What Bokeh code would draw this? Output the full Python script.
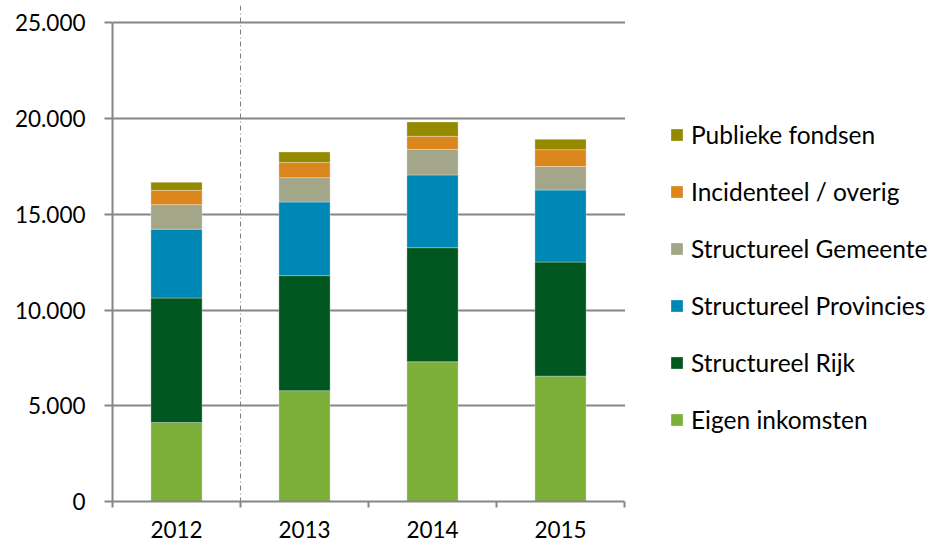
import numpy as np
from bokeh.plotting import figure
from bokeh.models import (ColumnDataSource, FixedTicker, Span, Legend, LegendItem,
                          Range1d, BoxAnnotation)
from bokeh.embed import file_html
from bokeh.resources import INLINE

# ---- data ----
years = ["2012", "2013", "2014", "2015"]
series = ["Eigen inkomsten", "Structureel Rijk", "Structureel Provincies",
          "Structureel Gemeente", "Incidenteel / overig", "Publieke fondsen"]
eigen_inkomsten = [4130, 5790, 7300, 6550]
structureel_rijk = [6500, 6010, 5960, 5960]
structureel_provincies = [3600, 3850, 3800, 3760]
structureel_gemeente = [1280, 1270, 1340, 1230]
incidenteel_overig = [750, 790, 680, 880]
publieke_fondsen = [420, 550, 750, 540]
colors = ["#7CAF3A", "#00561F", "#0088B5", "#A3A689", "#DB861C", "#948A00"]
y_ticks = [0, 5000, 10000, 15000, 20000, 25000]
y_tick_labels = ["0", "5.000", "10.000", "15.000", "20.000", "25.000"]

FONT = "Lato"
GREY = "#868686"

keys = ["s0", "s1", "s2", "s3", "s4", "s5"]
ncat = len(years)
xpos = [i + 0.5 for i in range(ncat)]
source = ColumnDataSource(dict(
    x=xpos,
    s0=eigen_inkomsten, s1=structureel_rijk, s2=structureel_provincies,
    s3=structureel_gemeente, s4=incidenteel_overig, s5=publieke_fondsen,
))

# frame spans the full width to the right so the legend can sit there;
# the chart area itself covers x in [0, ncat]
p = figure(width=932, height=548, output_backend="svg", toolbar_location=None,
           x_range=Range1d(0, 820 / 128), y_range=Range1d(0, 25914),
           min_border_left=112, min_border_right=0, min_border_top=5,
           min_border_bottom=47)
p.outline_line_color = None
p.background_fill_color = "white"
p.border_fill_color = "white"

p.xgrid.grid_line_color = None
p.ygrid.grid_line_color = GREY
p.ygrid.grid_line_width = 2

# hide grid lines right of the chart area (legend area)
p.add_layout(BoxAnnotation(left=ncat + 0.004, fill_color="white", fill_alpha=1,
                           line_color=None, level="underlay"))

renderers = p.vbar_stack(keys, x="x", width=0.4, color=colors, source=source,
                         line_color="white", line_width=0.6, line_alpha=0.5)

# y axis
p.yaxis.ticker = FixedTicker(ticks=y_ticks)
p.yaxis.major_label_overrides = {t: l for t, l in zip(y_ticks, y_tick_labels)}
p.yaxis.bounds = (y_ticks[0], y_ticks[-1])
p.yaxis.axis_line_color = GREY
p.yaxis.axis_line_width = 2
p.yaxis.major_tick_line_color = GREY
p.yaxis.major_tick_line_width = 2
p.yaxis.major_tick_out = 8
p.yaxis.major_tick_in = 0
p.yaxis.minor_tick_line_color = None
p.yaxis.major_label_standoff = 19
p.yaxis.major_label_text_font = FONT
p.yaxis.major_label_text_font_size = "22.5px"
p.yaxis.major_label_text_color = "#000000"

# x axis: labels at centers, tick marks at category boundaries
p.xaxis.ticker = FixedTicker(ticks=xpos, minor_ticks=list(range(ncat + 1)))
p.xaxis.bounds = (0, ncat)
p.xaxis.major_label_overrides = {x: y for x, y in zip(xpos, years)}
p.xaxis.axis_line_color = GREY
p.xaxis.axis_line_width = 2
p.xaxis.major_tick_line_color = None
p.xaxis.major_tick_out = 0
p.xaxis.major_tick_in = 0
p.xaxis.minor_tick_line_color = GREY
p.xaxis.minor_tick_line_width = 2
p.xaxis.minor_tick_out = 6
p.xaxis.minor_tick_in = 0
p.xaxis.major_label_standoff = 13
p.xaxis.major_label_text_font = FONT
p.xaxis.major_label_text_font_size = "22.5px"
p.xaxis.major_label_text_color = "#000000"

# dash-dot separator between 2012 and 2013
p.add_layout(Span(location=1, dimension="height", line_color="#7F7F7F",
                  line_width=1, line_dash="5 3 1 3"))

items = [LegendItem(label=s, renderers=[r]) for s, r in zip(series, renderers)]
legend = Legend(items=list(reversed(items)), location=(557, 67),
                label_text_font=FONT, label_text_font_size="24.5px",
                label_text_color="#000000",
                glyph_width=15, glyph_height=15, label_standoff=7,
                spacing=27, label_height=30, padding=0, margin=0,
                border_line_color=None, background_fill_alpha=0)
p.add_layout(legend)

open("out.html", "w").write(file_html(p, INLINE))
